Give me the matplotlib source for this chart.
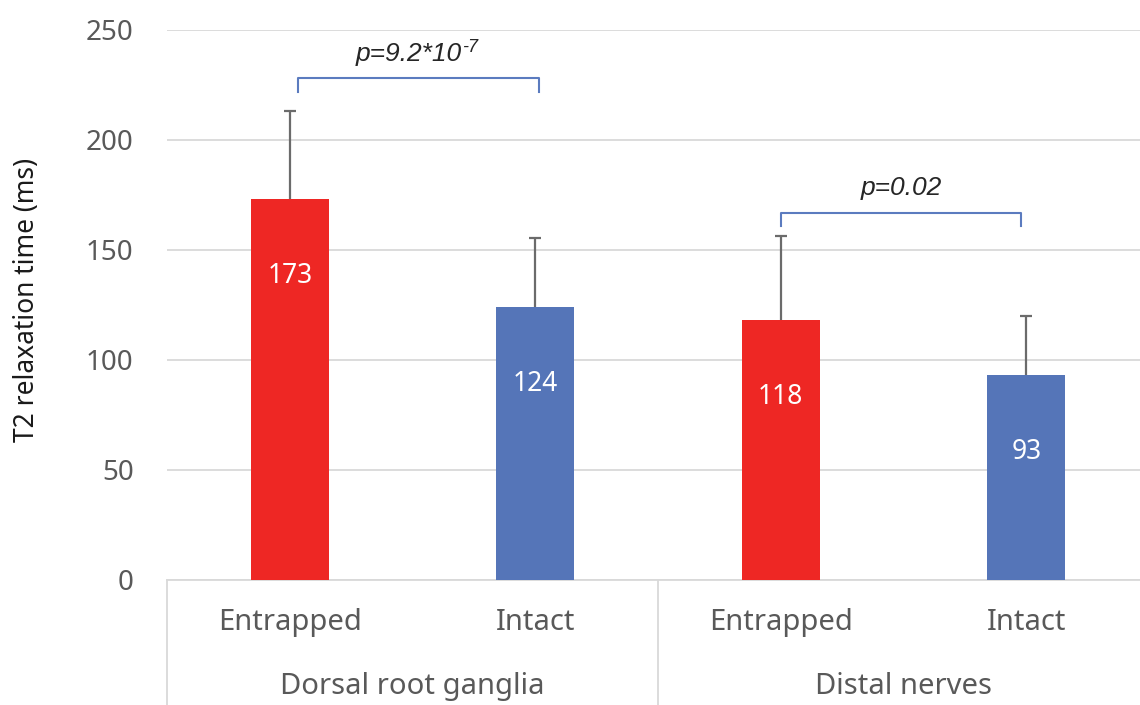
import matplotlib
matplotlib.use("Agg")
import matplotlib.pyplot as plt
import matplotlib.transforms as mtransforms
import numpy as np

# ---- data ----
groups = ["Dorsal root ganglia", "Distal nerves"]
conditions = ["Entrapped", "Intact", "Entrapped", "Intact"]
values = [173, 124, 118, 93]
errors_upper = [40, 31.5, 38.5, 27]
bar_colors = ["#EE2724", "#5575B8", "#EE2724", "#5575B8"]
yticks = [0, 50, 100, 150, 200, 250]
# significance brackets
bracket_x0 = [0.035, 2.0]
bracket_x1 = [1.015, 2.98]
bracket_height = [228, 167]
bracket_main = ["p=9.2*10", "p=0.02"]
bracket_sup = ["-7", ""]

W, H = 1140, 705
fig = plt.figure(figsize=(W / 100, H / 100), dpi=100)
left_px, bottom_px, top_px = 167, 580, 30
cat_px = 245.5
ax = fig.add_axes([left_px / W, 1 - bottom_px / H,
                   4 * cat_px / W, (bottom_px - top_px) / H])

font_main = ["Noto Sans", "DejaVu Sans"]
font_p = ["Liberation Sans", "DejaVu Sans"]
x = np.arange(len(values))
bar_w = 0.316

ax.bar(x, values, width=bar_w, color=bar_colors, zorder=3)
eb = ax.errorbar(x, values, yerr=[np.zeros(len(values)), errors_upper], fmt="none",
                 ecolor="#6B6B6B", elinewidth=1.6, capsize=4, capthick=1.6, zorder=4)
caps = eb.lines[1]
if len(caps) == 2:
    caps[0].set_visible(False)

for xi, v in zip(x, values):
    ax.annotate(str(v), (xi, v), xytext=(0, -55), textcoords="offset points",
                ha="center", va="center", color="white", fontsize=19,
                family=font_main, zorder=5)

ax.set_xlim(-0.5, 3.5)
ax.set_ylim(0, 250)
ax.set_yticks(yticks)
ax.set_yticklabels([str(t) for t in yticks], family=font_main, fontsize=20,
                   color="#595959")
ax.tick_params(axis="y", length=0, pad=24)
ax.set_xticks([])
ax.grid(axis="y", color="#D9D9D9", linewidth=1.3, zorder=0)
ax.set_axisbelow(True)
for s in ["top", "right", "left"]:
    ax.spines[s].set_visible(False)
ax.spines["bottom"].set_color("#D9D9D9")
ax.spines["bottom"].set_linewidth(1.3)

ax.set_ylabel("T2 relaxation time (ms)", family=font_main,
              fontsize=19, color="#1a1a1a", va="center")
ax.yaxis.set_label_coords(-0.1426, 0.51)

# category axis
trans = mtransforms.blended_transform_factory(ax.transData, ax.transAxes)
for xi, c in zip(x, conditions):
    ax.text(xi, -0.077, c, transform=trans, ha="center", va="center",
            fontsize=21, color="#595959", family=font_main)
n_per = len(conditions) // len(groups)
for gi, g in enumerate(groups):
    gx = np.mean(x[gi * n_per:(gi + 1) * n_per])
    ax.text(gx, -0.193, g, transform=trans, ha="center", va="center",
            fontsize=21, color="#595959", family=font_main)
for b in [-0.5, 1.5, 3.5]:
    ax.plot([b, b], [0, -0.4], transform=trans, color="#D9D9D9", lw=1.3,
            clip_on=False)

# significance brackets
for xl, xr, h, lab, sup in zip(bracket_x0, bracket_x1, bracket_height,
                               bracket_main, bracket_sup):
    ax.plot([xl, xl, xr, xr], [h - 6, h, h, h - 6], color="#5B7BBF", lw=1.5,
            clip_on=False, zorder=5)
    xm = (xl + xr) / 2 - (0.04 if sup else 0)
    t = ax.text(xm, h + 11, lab, ha="center", va="center", fontsize=19,
                style="italic", family=font_p, color="#262626")
    if sup:
        ax.annotate(sup, xy=(1.0, 1.0), xycoords=t, xytext=(0, 2),
                    textcoords="offset points", ha="left", va="top",
                    fontsize=13, style="italic", family=font_p, color="#262626")

fig.savefig("out.png", dpi=100)
